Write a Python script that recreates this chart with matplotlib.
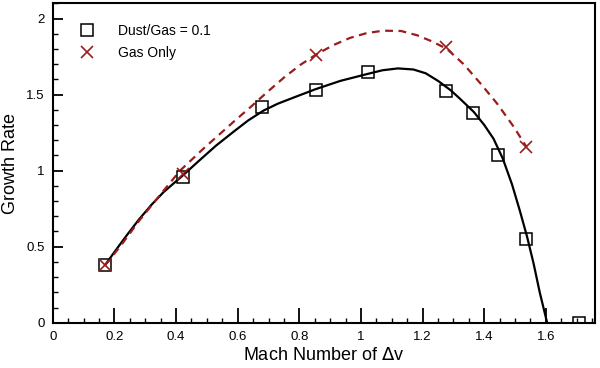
import matplotlib
matplotlib.use('Agg')
import matplotlib.pyplot as plt
from matplotlib.ticker import MultipleLocator, FormatStrFormatter

plt.rcParams['font.family'] = ['Liberation Sans', 'DejaVu Sans']

# simulation points
dust_x = [0.17, 0.423, 0.68, 0.855, 1.024, 1.277, 1.362, 1.446, 1.534, 1.706]
dust_y = [0.38, 0.957, 1.417, 1.53, 1.648, 1.522, 1.378, 1.102, 0.55, 0.0]

gas_x = [0.17, 0.423, 0.855, 1.277, 1.537]
gas_y = [0.38, 0.98, 1.76, 1.81, 1.156]

# fitted curves, sampled along the picture
dust_fit_x = [0.17, 0.20, 0.24, 0.28, 0.32, 0.36, 0.42, 0.48, 0.53, 0.586,
              0.634, 0.684, 0.73, 0.781, 0.852, 0.933, 1.02, 1.07, 1.12, 1.17,
              1.21, 1.25, 1.29, 1.32, 1.366, 1.40, 1.43, 1.46, 1.49, 1.515,
              1.539, 1.56, 1.58, 1.604]
dust_fit_y = [0.38, 0.465, 0.575, 0.68, 0.775, 0.86, 0.965, 1.075, 1.165, 1.255,
              1.33, 1.395, 1.44, 1.48, 1.535, 1.59, 1.635, 1.66, 1.672, 1.665,
              1.64, 1.59, 1.53, 1.475, 1.386, 1.30, 1.21, 1.08, 0.91, 0.74,
              0.565, 0.39, 0.20, 0.0]

gas_fit_x = [0.17, 0.22, 0.28, 0.35, 0.413, 0.489, 0.586, 0.64, 0.695, 0.749,
             0.803, 0.852, 0.91, 0.965, 1.02, 1.073, 1.13, 1.182, 1.23, 1.279,
             1.333, 1.387, 1.442, 1.495, 1.537]
gas_fit_y = [0.38, 0.505, 0.67, 0.845, 1.0, 1.145, 1.32, 1.415, 1.515, 1.61,
             1.695, 1.76, 1.825, 1.873, 1.905, 1.92, 1.918, 1.89, 1.85, 1.80,
             1.70, 1.575, 1.44, 1.29, 1.156]

red = '#9a1c1c'

fig = plt.figure(figsize=(6.0, 3.68), dpi=100)
ax = fig.add_axes([0.088, 0.123, 0.904, 0.868])

ax.plot(dust_fit_x, dust_fit_y, color='black', linewidth=1.6, zorder=2)
ax.plot(gas_fit_x, gas_fit_y, color=red, linewidth=1.6, linestyle=(0, (3.5, 2.5)), zorder=2)

ax.plot(dust_x, dust_y, linestyle='none', marker='s', markersize=8,
        markerfacecolor='none', markeredgecolor='black', markeredgewidth=1.1,
        label='Dust/Gas = 0.1', zorder=3)
ax.plot(gas_x, gas_y, linestyle='none', marker='x', markersize=9,
        markeredgecolor=red, markeredgewidth=1.2, label='Gas Only', zorder=3)

ax.set_xlim(0, 1.76)
ax.set_ylim(0, 2.1)

ax.xaxis.set_major_locator(MultipleLocator(0.2))
ax.xaxis.set_minor_locator(MultipleLocator(0.05))
ax.yaxis.set_major_locator(MultipleLocator(0.5))
ax.yaxis.set_minor_locator(MultipleLocator(0.1))
ax.xaxis.set_major_formatter(FormatStrFormatter('%g'))
ax.yaxis.set_major_formatter(FormatStrFormatter('%g'))

ax.tick_params(axis='both', which='both', direction='in', top=False, right=False,
               labelsize=9.5, width=1.3)
ax.tick_params(axis='x', which='major', length=11, pad=6)
ax.tick_params(axis='y', which='major', length=7.5, pad=6)
ax.tick_params(axis='both', which='minor', length=3.5, width=1.0)

for sp in ax.spines.values():
    sp.set_linewidth(1.5)

ax.set_xlabel('Mach Number of $\\Delta$v', fontsize=13, labelpad=3)
ax.set_ylabel('Growth Rate', fontsize=13, labelpad=5)

ax.legend(loc='upper left', bbox_to_anchor=(0.025, 0.975), frameon=False,
          fontsize=10, handletextpad=1.6, labelspacing=0.6, handlelength=1.2)

fig.savefig('out.png', dpi=100)
